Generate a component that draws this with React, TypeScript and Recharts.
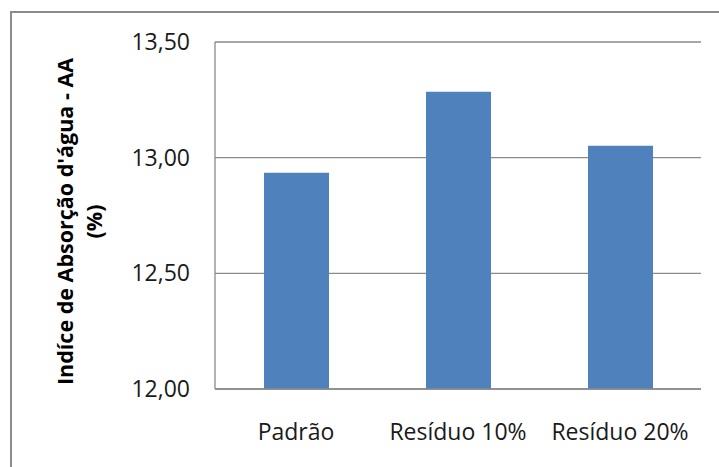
import { BarChart, Bar, XAxis, YAxis, CartesianGrid, Label } from 'recharts';

const CATEGORIES = ['Padrão', 'Resíduo 10%', 'Resíduo 20%'];
const ABSORCAO = [12.935, 13.285, 13.052];
const Y_TICKS = [12, 12.5, 13, 13.5];
const Y_TITLE = ["Indíce de Absorção d'água - AA", '(%)'];

const data = CATEGORIES.map((name, i) => ({ name, value: ABSORCAO[i] }));

const FONT = '"Open Sans", sans-serif';
const GRID = '#8a8a8a';

const formatTick = (v: number) => v.toFixed(2).replace('.', ',');

const YTitle = ({ viewBox }: any) => {
    const cy = viewBox.y + viewBox.height / 2 + 6;
    return (
        <g transform={`translate(65, ${cy}) rotate(-90)`}>
            <text x={0} y={0} dy="0.35em" textAnchor="middle" fontFamily={FONT} fontSize={21.5} fontWeight="bold" fill="#000">
                {Y_TITLE[0]}
            </text>
            <text x={0} y={29} dy="0.35em" textAnchor="middle" fontFamily={FONT} fontSize={21.5} fontWeight="bold" fill="#000">
                {Y_TITLE[1]}
            </text>
        </g>
    );
};

export default function App() {
    return (
        <div style={{ position: 'fixed', left: 0, top: 0, width: 719, height: 467, background: '#fff', overflow: 'hidden' }}>
            <div
                style={{
                    position: 'absolute',
                    left: 10,
                    top: 11,
                    width: 760,
                    height: 500,
                    borderTop: '2px solid #8c8c8c',
                    borderLeft: '2px solid #8c8c8c',
                }}
            />
            <div style={{ position: 'absolute', left: 0, top: 0 }}>
                <BarChart width={719} height={467} data={data} margin={{ top: 42, right: 18, bottom: 0, left: 0 }}>
                    <CartesianGrid vertical={false} stroke={GRID} strokeWidth={1.3} />
                    <XAxis
                        dataKey="name"
                        height={78}
                        axisLine={{ stroke: GRID, strokeWidth: 1.3 }}
                        tickLine={false}
                        tickSize={0}
                        tickMargin={35}
                        tick={{ fill: '#1a1a1a', fontFamily: FONT, fontSize: 23 }}
                    />
                    <YAxis
                        width={215}
                        domain={[12, 13.5]}
                        ticks={Y_TICKS}
                        interval={0}
                        tickFormatter={formatTick}
                        axisLine={{ stroke: GRID, strokeWidth: 1.3 }}
                        tickLine={false}
                        tickSize={0}
                        tickMargin={25}
                        tick={{ fill: '#1a1a1a', fontFamily: FONT, fontSize: 23 }}
                    >
                        <Label content={<YTitle />} />
                    </YAxis>
                    <Bar dataKey="value" fill="#4f81bd" barSize={65} isAnimationActive={false} />
                </BarChart>
            </div>
        </div>
    );
}
